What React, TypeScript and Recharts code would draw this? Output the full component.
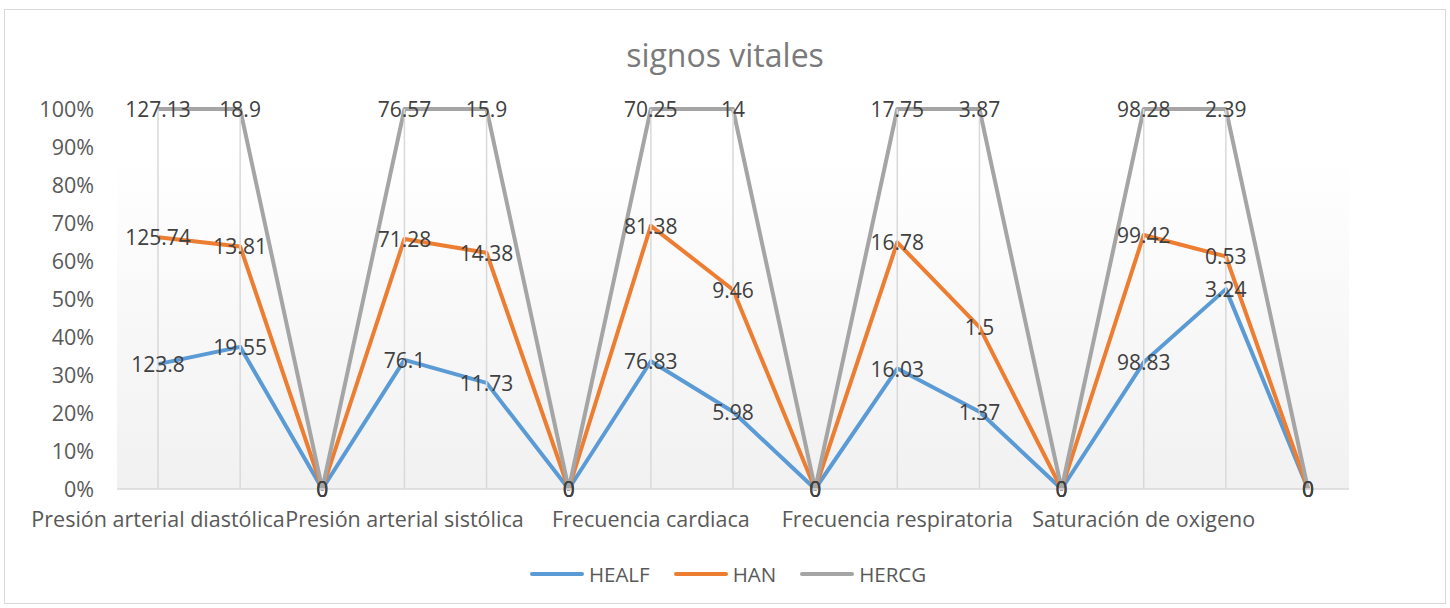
import React from 'react';
import { AreaChart, Area, XAxis, YAxis, CartesianGrid, Legend, ReferenceLine } from 'recharts';

// tick labels of the category axis (Excel only shows every third one)
const categories = [
  'Presión arterial diastólica', '', '',
  'Presión arterial sistólica', '', '',
  'Frecuencia cardiaca', '', '',
  'Frecuencia respiratoria', '', '',
  'Saturación de oxigeno', '', '',
];

const healf = [123.8, 19.55, 0, 76.1, 11.73, 0, 76.83, 5.98, 0, 16.03, 1.37, 0, 98.83, 3.24, 0];
const han = [125.74, 13.81, 0, 71.28, 14.38, 0, 81.38, 9.46, 0, 16.78, 1.5, 0, 99.42, 0.53, 0];
const hercg = [127.13, 18.9, 0, 76.57, 15.9, 0, 70.25, 14, 0, 17.75, 3.87, 0, 98.28, 2.39, 0];

const yTicks = [0, 0.1, 0.2, 0.3, 0.4, 0.5, 0.6, 0.7, 0.8, 0.9, 1];

const seriesList = [
  { key: 'HEALF', values: healf, color: '#5B9BD5' },
  { key: 'HAN', values: han, color: '#ED7D31' },
  { key: 'HERCG', values: hercg, color: '#A5A5A5' },
];

const data = categories.map((c, i) => ({
  key: String(i),
  HEALF: healf[i],
  HAN: han[i],
  HERCG: hercg[i],
}));

const FONT = '"Open Sans", sans-serif';

const makeLabel = (values: number[]) => (p: any) => (
  <text
    key={`lbl-${p.index}`}
    x={p.x}
    y={p.y}
    textAnchor="middle"
    dominantBaseline="central"
    fontFamily={FONT}
    fontSize={21}
    fill="#404040"
  >
    {values[p.index]}
  </text>
);

const LegendBox = () => (
  <div style={{ display: 'flex', justifyContent: 'center', alignItems: 'center', height: 30, paddingLeft: 6, fontFamily: FONT, fontSize: 20.5, color: '#595959' }}>
    {seriesList.map((s) => (
      <div key={s.key} style={{ display: 'flex', alignItems: 'center', margin: '0 12px' }}>
        <div style={{ width: 54, height: 4, borderRadius: 2, background: s.color, marginRight: 5 }} />
        <span>{s.key}</span>
      </div>
    ))}
  </div>
);

export default function App() {
  return (
    <div style={{ position: 'absolute', left: 4, top: 9, width: 1442, height: 595, border: '1px solid #d9d9d9', boxSizing: 'border-box', background: '#fff' }}>
      <div style={{ position: 'absolute', top: 25, left: 0, width: '100%', textAlign: 'center', fontFamily: FONT, fontSize: 32, lineHeight: '40px', color: '#7a7a7a' }}>
        signos vitales
      </div>
      <AreaChart
        width={1440}
        height={593}
        data={data}
        stackOffset="expand"
        margin={{ top: 99, right: 96, left: 52, bottom: 14 }}
      >
        <defs>
          <linearGradient id="plotBg" x1="0" y1="0" x2="0" y2="1">
            <stop offset="0%" stopColor="#ffffff" />
            <stop offset="12%" stopColor="#ffffff" />
            <stop offset="100%" stopColor="#f1f1f1" />
          </linearGradient>
        </defs>
        <CartesianGrid horizontal={false} vertical={false} fill="url(#plotBg)" />
        <XAxis
          dataKey="key"
          interval={0}
          tickFormatter={(v) => categories[Number(v)]}
          padding={{ left: 41, right: 41 }}
          height={70}
          tickLine={false}
          tickSize={0}
          tickMargin={23}
          axisLine={{ stroke: '#d9d9d9', strokeWidth: 1.5 }}
          tick={{ fontFamily: FONT, fontSize: 21.5, fill: '#595959' }}
        />
        <YAxis
          domain={[0, 1]}
          ticks={yTicks}
          tickFormatter={(v) => `${Math.round(v * 100)}%`}
          width={60}
          axisLine={false}
          tickLine={false}
          tickSize={0}
          tickMargin={23}
          tick={{ fontFamily: FONT, fontSize: 21.5, fill: '#595959' }}
        />
        {data
          .filter((d) => d.HEALF + d.HAN + d.HERCG > 0)
          .map((d) => (
            <ReferenceLine key={`drop-${d.key}`} x={d.key} stroke="#d9d9d9" strokeWidth={1.5} />
          ))}
        {seriesList.map((s) => (
          <Area
            key={s.key}
            type="linear"
            dataKey={s.key}
            stackId="1"
            stroke={s.color}
            strokeWidth={4}
            strokeLinejoin="round"
            fill="none"
            fillOpacity={0}
            dot={false}
            activeDot={false}
            label={makeLabel(s.values)}
            isAnimationActive={false}
          />
        ))}
        <Legend verticalAlign="bottom" height={30} wrapperStyle={{ bottom: 14, left: 0, width: 1440 }} content={<LegendBox />} />
      </AreaChart>
    </div>
  );
}
